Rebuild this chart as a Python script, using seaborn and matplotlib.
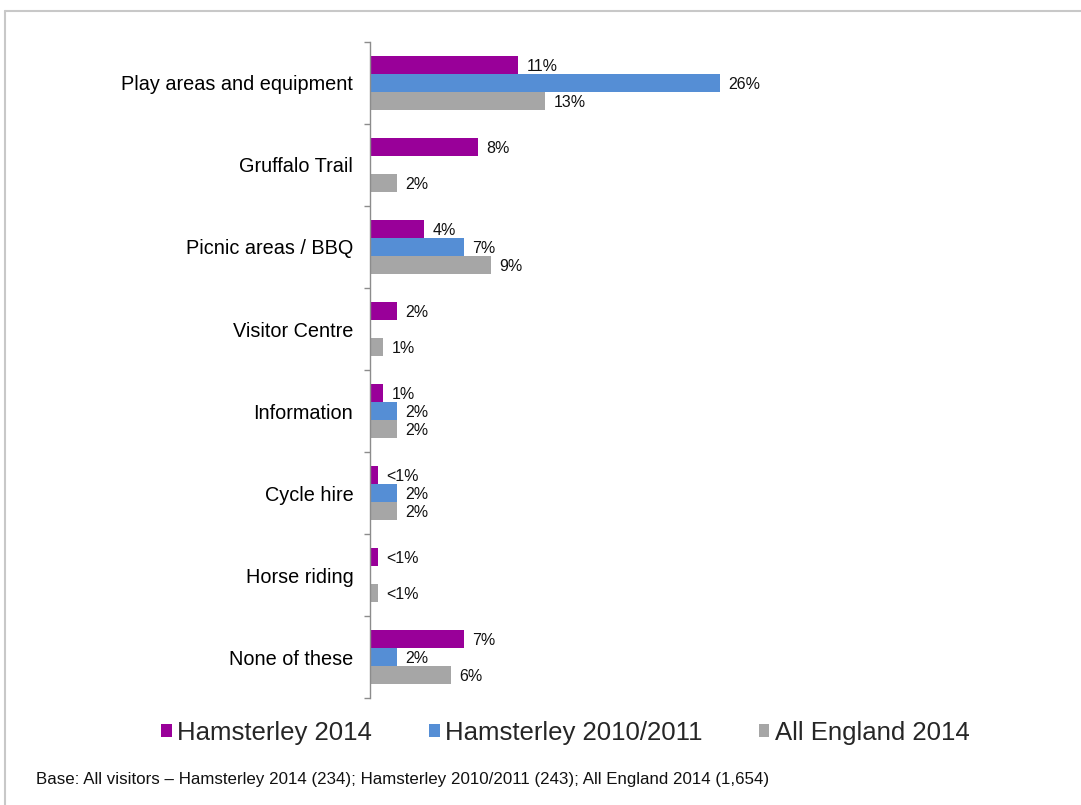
import numpy as np
import pandas as pd
import matplotlib
matplotlib.use("Agg")
import matplotlib.pyplot as plt
import seaborn as sns
from matplotlib.lines import Line2D
from matplotlib.patches import Patch

categories = ["Play areas and equipment", "Gruffalo Trail", "Picnic areas / BBQ",
              "Visitor Centre", "Information", "Cycle hire", "Horse riding", "None of these"]
series = ["Hamsterley 2014", "Hamsterley 2010/2011", "All England 2014"]
ham2014 = [11, 8, 4, 2, 1, 0.6, 0.6, 7]
ham2010 = [26, np.nan, 7, np.nan, 2, 2, np.nan, 2]
england2014 = [13, 2, 9, 1, 2, 2, 0.6, 6]
lab2014 = ["11%", "8%", "4%", "2%", "1%", "<1%", "<1%", "7%"]
lab2010 = ["26%", "", "7%", "", "2%", "2%", "", "2%"]
labeng = ["13%", "2%", "9%", "1%", "2%", "2%", "<1%", "6%"]
colors = ["#990099", "#558ED5", "#A6A6A6"]
footnote = "Base: All visitors \u2013 Hamsterley 2014 (234); Hamsterley 2010/2011 (243); All England 2014 (1,654)"

rows = []
for vals, s in zip([ham2014, ham2010, england2014], series):
    for c, v in zip(categories, vals):
        rows.append({"category": c, "series": s, "value": v})
df = pd.DataFrame(rows)

sns.set_style("white")
plt.rcParams['font.family'] = ['Liberation Sans', 'DejaVu Sans']

fig = plt.figure(figsize=(10.81, 8.05), dpi=100)
ax = fig.add_axes([370/1081, 1-698/805, (1060-370)/1081, (698-42)/805])

sns.barplot(data=df, y="category", x="value", hue="series", order=categories,
            hue_order=series, palette=colors, orient="h", width=0.66, gap=0,
            saturation=1, ax=ax, legend=False, edgecolor="none")

for cont, labs in zip(ax.containers, [lab2014, lab2010, labeng]):
    bars = [b for b in cont if b is not None]
    labs_used = [l for l in labs if l != ""]
    for b, l in zip(bars, labs_used):
        x = b.get_x() + b.get_width()
        y = b.get_y() + b.get_height() / 2
        ax.annotate(l, (x, y), xytext=(6, -1), textcoords="offset points",
                    ha="left", va="center", fontsize=11.5, color="#111111")

ax.set_xlim(0, 690/13.46)
ax.set_ylim(7.5, -0.5)
ax.set_xlabel("")
ax.set_ylabel("")
ax.set_xticks([])
for sp in ["top", "right", "bottom"]:
    ax.spines[sp].set_visible(False)
ax.spines["left"].set_color("#8C8C8C")
ax.spines["left"].set_linewidth(1)
ax.set_yticks(range(len(categories)))
ax.set_yticklabels(categories, fontsize=14.3, color="#000000")
ax.tick_params(axis="y", which="major", length=0, pad=12)
ax.set_yticks(np.arange(-0.5, len(categories), 1.0), minor=True)
ax.tick_params(axis="y", which="minor", length=4, color="#8C8C8C", width=1, left=True)

handles = [Patch(facecolor=c, edgecolor="none") for c in colors]
fig.legend(handles, series, loc="center", bbox_to_anchor=(0.523, 1-733/805), ncol=3,
           frameon=False, fontsize=18.5, handlelength=0.42, handleheight=0.42,
           handletextpad=0.2, columnspacing=2.2)

fig.text(36/1081, 1-779/805, footnote, fontsize=12.2, va="center", ha="left", color="#111111")

fig.add_artist(Line2D([5/1081, 1], [1-11/805, 1-11/805], color="#C8C8C8", lw=1.5))
fig.add_artist(Line2D([5/1081, 5/1081], [1-11/805, 0], color="#C8C8C8", lw=1.5))

fig.savefig("out.png", dpi=100)
